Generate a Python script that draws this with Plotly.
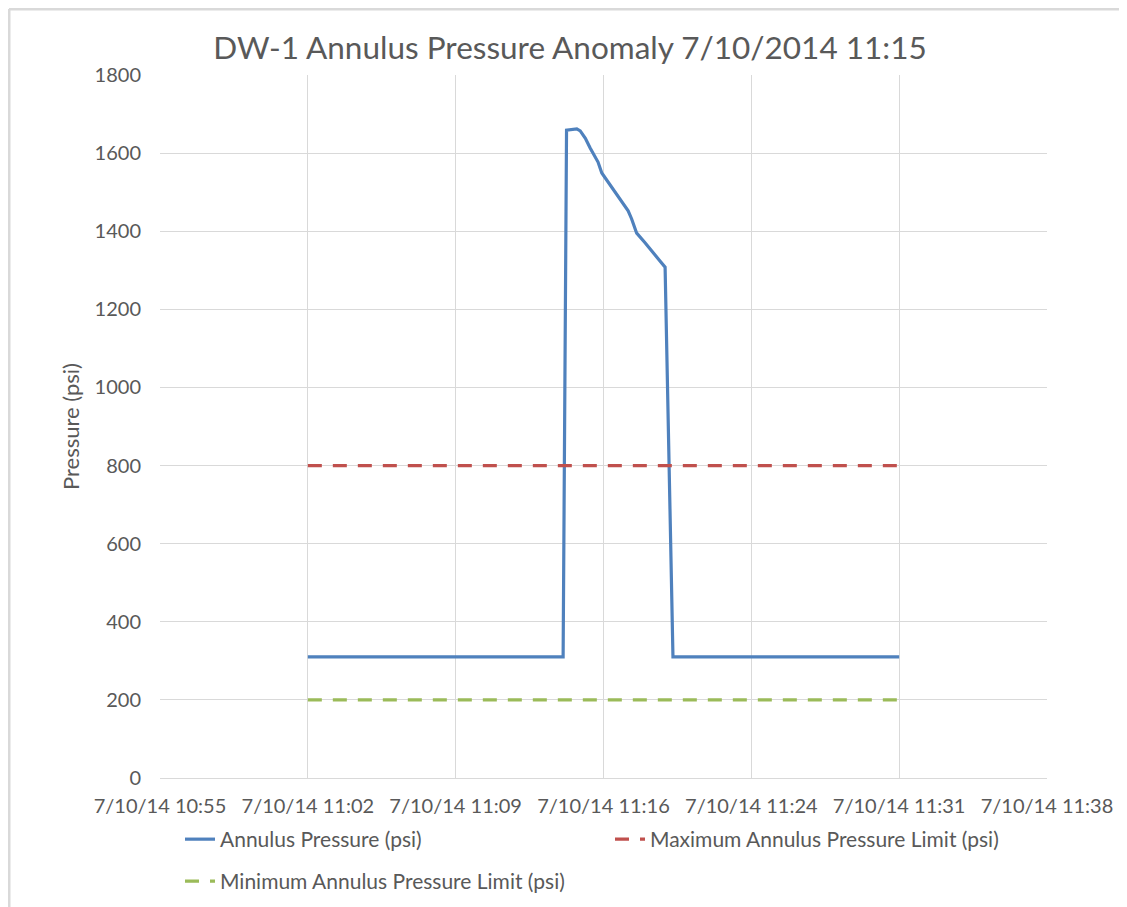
import plotly.graph_objects as go

# ---- data ----
pressure_times = [
    "2014-07-10 11:02:24", "2014-07-10 11:14:50", "2014-07-10 11:15:00",
    "2014-07-10 11:15:15", "2014-07-10 11:15:30", "2014-07-10 11:15:40",
    "2014-07-10 11:15:55", "2014-07-10 11:16:09", "2014-07-10 11:16:32",
    "2014-07-10 11:16:43", "2014-07-10 11:17:05", "2014-07-10 11:17:27",
    "2014-07-10 11:17:45", "2014-07-10 11:18:00", "2014-07-10 11:18:10",
    "2014-07-10 11:18:25", "2014-07-10 11:18:50", "2014-07-10 11:19:13",
    "2014-07-10 11:19:30", "2014-07-10 11:19:48", "2014-07-10 11:20:11",
    "2014-07-10 11:31:12",
]
pressure_psi = [
    310, 310, 1659,
    1660, 1662, 1657,
    1638, 1613, 1577,
    1549, 1522, 1493,
    1470, 1452, 1432,
    1395, 1370, 1344,
    1327, 1308, 310,
    310,
]
limit_times = ["2014-07-10 11:02:24", "2014-07-10 11:31:12"]
max_limit = [800, 800]
min_limit = [200, 200]

x_tick_vals = [
    "2014-07-10 10:55:12", "2014-07-10 11:02:24", "2014-07-10 11:09:36",
    "2014-07-10 11:16:48", "2014-07-10 11:24:00", "2014-07-10 11:31:12",
    "2014-07-10 11:38:24",
]
x_tick_text = [
    "7/10/14 10:55", "7/10/14 11:02", "7/10/14 11:09", "7/10/14 11:16",
    "7/10/14 11:24", "7/10/14 11:31", "7/10/14 11:38",
]
y_ticks = list(range(0, 1801, 200))

FONT = "Lato"
TXT = "#595959"
GRID = "#d9d9d9"

W, H = 1119, 899          # page body has an 8px margin
L, R, T, B = 152, 80, 67, 129
plot_w = W - L - R
plot_h = H - T - B

fig = go.Figure()
fig.add_trace(go.Scatter(
    x=pressure_times, y=pressure_psi, mode="lines",
    name="Annulus Pressure (psi)",
    line=dict(color="#4F81BD", width=3.2),
    legend="legend",
))
fig.add_trace(go.Scatter(
    x=limit_times, y=max_limit, mode="lines",
    name="Maximum Annulus Pressure Limit (psi)",
    line=dict(color="#C0504D", width=3.2, dash="14px,11px"),
    legend="legend",
))
fig.add_trace(go.Scatter(
    x=limit_times, y=min_limit, mode="lines",
    name="Minimum Annulus Pressure Limit (psi)",
    line=dict(color="#9BBB59", width=3.2, dash="14px,11px"),
    legend="legend2",
))

# outer chart border (left and top edges visible)
bx = (1 - L) / plot_w
by = (H - B - 1) / plot_h
fig.add_shape(type="line", xref="paper", yref="paper", x0=bx, x1=(W - L) / plot_w + 0.05,
              y0=by, y1=by, line=dict(color=GRID, width=3), layer="below")
fig.add_shape(type="line", xref="paper", yref="paper", x0=bx, x1=bx,
              y0=by, y1=-(B + 20) / plot_h, line=dict(color=GRID, width=3), layer="below")

fig.update_layout(
    width=W, height=H,
    margin=dict(l=L, r=R, t=T, b=B, autoexpand=False),
    paper_bgcolor="white", plot_bgcolor="white",
    font=dict(family=FONT, color=TXT, size=20),
    title=dict(text="DW-1 Annulus Pressure Anomaly 7/10/2014 11:15",
               x=(570 - 8) / W, xanchor="center", xref="container",
               y=1 - 40 / H, yanchor="middle", yref="container",
               font=dict(family=FONT, size=31.5, color=TXT)),
    xaxis=dict(
        type="date",
        range=["2014-07-10 10:55:12", "2014-07-10 11:38:24"],
        tickmode="array", tickvals=x_tick_vals, ticktext=x_tick_text,
        showgrid=True, gridcolor=GRID, gridwidth=1,
        showline=True, linecolor=GRID, linewidth=1,
        zeroline=False, ticks="", ticklabelstandoff=10,
        tickfont=dict(family=FONT, size=20, color=TXT),
    ),
    yaxis=dict(
        range=[0, 1800], tickmode="array", tickvals=y_ticks,
        showgrid=True, gridcolor=GRID, gridwidth=1,
        zeroline=False, ticks="", ticklabelstandoff=18,
        tickfont=dict(family=FONT, size=20, color=TXT),
        title=dict(text="Pressure (psi)", standoff=8,
                   font=dict(family=FONT, size=22, color=TXT)),
    ),
    legend=dict(
        orientation="h", xref="container", yref="container",
        x=(180 - 8) / W, xanchor="left",
        y=1 - (819 - 8) / H, yanchor="top",
        entrywidth=385, entrywidthmode="pixels",
        font=dict(family=FONT, size=21, color=TXT),
        bgcolor="rgba(0,0,0,0)",
    ),
    legend2=dict(
        orientation="h", xref="container", yref="container",
        x=(180 - 8) / W, xanchor="left",
        y=1 - (861 - 8) / H, yanchor="top",
        font=dict(family=FONT, size=21, color=TXT),
        bgcolor="rgba(0,0,0,0)",
    ),
    showlegend=True,
)

fig.write_html("out.html")
